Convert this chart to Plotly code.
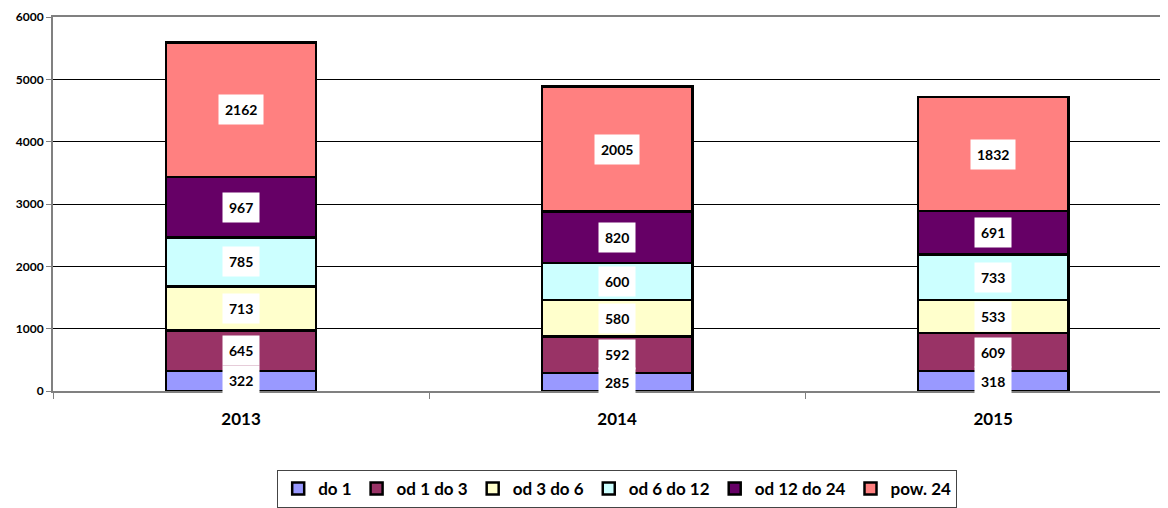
import plotly.graph_objects as go

years = ["2013", "2014", "2015"]
series_names = ["do 1", "od 1 do 3", "od 3 do 6", "od 6 do 12", "od 12 do 24", "pow. 24"]
v_do1 = [322, 285, 318]
v_od1do3 = [645, 592, 609]
v_od3do6 = [713, 580, 533]
v_od6do12 = [785, 600, 733]
v_od12do24 = [967, 820, 691]
v_pow24 = [2162, 2005, 1832]
colors = ["#9999FF", "#993366", "#FFFFCC", "#CCFFFF", "#660066", "#FF8080"]

series_values = [v_do1, v_od1do3, v_od3do6, v_od6do12, v_od12do24, v_pow24]
xpos = list(range(len(years)))

FONT = "Lato"
fig = go.Figure()
for name, vals, col in zip(series_names, series_values, colors):
    fig.add_trace(go.Bar(
        x=xpos, y=vals, name=f"<b>{name}</b>", width=0.4,
        marker=dict(color=col, line=dict(color="black", width=2.5)),
    ))

annotations = []
base = [0] * len(years)
for vals in series_values:
    for i, v in enumerate(vals):
        annotations.append(dict(
            x=xpos[i], y=base[i] + v / 2, text=f"<b>{v}</b>", showarrow=False,
            bgcolor="white", borderpad=6,
            font=dict(family=FONT, size=14, color="black"),
        ))
        base[i] += v

fig.update_layout(
    barmode="stack",
    width=1160, height=500,
    margin=dict(l=45, r=0, t=9, b=116),
    plot_bgcolor="white", paper_bgcolor="white",
    annotations=annotations,
    legend=dict(
        orientation="h", x=0.506, xanchor="center", y=-0.21, yanchor="top",
        bordercolor="#444", borderwidth=1,
        font=dict(family=FONT, size=17, color="black"),
        itemwidth=30, traceorder="normal",
    ),
)
fig.update_xaxes(
    range=[-0.5, 2.465], tickvals=xpos, ticktext=[f"<b>{y}</b>" for y in years],
    tickfont=dict(family=FONT, size=17, color="black"),
    showline=True, linecolor="#808080", linewidth=2, mirror=True,
    showgrid=False, ticks="", ticklabelstandoff=12, automargin=False,
    minor=dict(tick0=0.5, dtick=1, ticks="outside", ticklen=6, tickcolor="#808080"),
)
fig.update_yaxes(
    range=[0, 6000],
    tickvals=[0, 1000, 2000, 3000, 4000, 5000, 6000],
    ticktext=[f"<b>{v}</b>" for v in [0, 1000, 2000, 3000, 4000, 5000, 6000]],
    tickfont=dict(family=FONT, size=12, color="black"),
    showgrid=True, gridcolor="black", gridwidth=1,
    showline=True, linecolor="#808080", linewidth=2,
    ticks="outside", ticklen=5, tickcolor="#808080",
    zeroline=False, automargin=False,
)
fig.write_html("out.html")
